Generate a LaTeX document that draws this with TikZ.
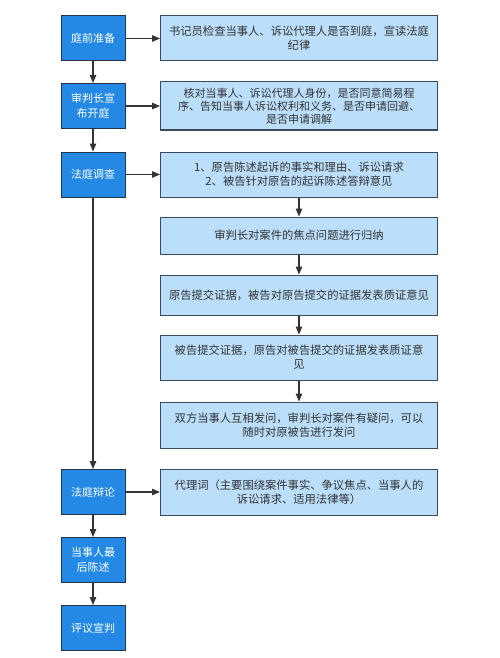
\documentclass[tikz,border=0pt]{standalone}
\usepackage{fontspec}
\setmainfont{Noto Sans CJK SC}
\usepackage{tikz}
\usetikzlibrary{arrows.meta}
\definecolor{stageblue}{HTML}{2489E4}
\definecolor{stageline}{HTML}{22364C}
\definecolor{detailblue}{HTML}{BBDEFB}
\definecolor{detailline}{HTML}{3B4A5A}
\definecolor{linkgray}{HTML}{333333}

\begin{document}
\begin{tikzpicture}[x=1pt,y=-1pt]
    \tikzstyle{stage}=[draw=stageline,fill=stageblue,line width=1pt,text=white,minimum width=64pt,minimum height=45pt,inner sep=0pt,align=center,font=\fontsize{11}{14.5}\selectfont]
    \tikzstyle{detail}=[draw=detailline,fill=detailblue,line width=1pt,text=linkgray,minimum width=277pt,inner sep=0pt,align=center,font=\fontsize{11.3}{14}\selectfont]
    \tikzstyle{link}=[draw=linkgray,line width=1.1pt,-{Triangle[length=8pt,width=6.5pt]}]
    \useasboundingbox (0,0) rectangle (500,658);
    % stages on the left
    \node[stage] (prep) at (93,38.5) {庭前准备};
    \node[stage] (open) at (93,106) {审判长宣\\布开庭};
    \node[stage] (inquiry) at (93,174.5) {法庭调查};
    \node[stage] (debate) at (93,492) {法庭辩论};
    \node[stage] (final) at (93,560) {当事人最\\后陈述};
    \node[stage] (verdict) at (93,628) {评议宣判};
    % details on the right
    \node[detail,minimum height=45pt] (check) at (299,38.5) {书记员检查当事人、诉讼代理人是否到庭，宣读法庭\\纪律};
    \node[detail,minimum height=48pt,font=\fontsize{11}{13}\selectfont] (verify) at (299,106) {核对当事人、诉讼代理人身份，是否同意简易程\\序、告知当事人诉讼权利和义务、是否申请回避、\\是否申请调解};
    \node[detail,minimum height=45pt] (claim) at (299,174.5) {1、原告陈述起诉的事实和理由、诉讼请求\\2、被告针对原告的起诉陈述答辩意见};
    \node[detail,minimum height=37pt] (focus) at (299,235.5) {审判长对案件的焦点问题进行归纳};
    \node[detail,minimum height=40pt] (plaintiff) at (299,295) {原告提交证据，被告对原告提交的证据发表质证意见};
    \node[detail,minimum height=45pt] (defendant) at (299,357.5) {被告提交证据，原告对被告提交的证据发表质证意\\见};
    \node[detail,minimum height=46pt] (question) at (299,425) {双方当事人互相发问，审判长对案件有疑问，可以\\随时对原被告进行发问};
    \node[detail,minimum height=46pt] (agent) at (299,492) {代理词（主要围绕案件事实、争议焦点、当事人的\\诉讼请求、适用法律等）};
    % main flow
    \draw[link] (prep) -- (open);
    \draw[link] (open) -- (inquiry);
    \draw[link] (inquiry) -- (debate);
    \draw[link] (debate) -- (final);
    \draw[link] (final) -- (verdict);
    % side arrows
    \draw[link] (prep) -- (check);
    \draw[link] (open) -- (verify);
    \draw[link] (inquiry) -- (claim);
    \draw[link] (debate) -- (agent);
    \draw[link] (claim) -- (focus);
    \draw[link] (focus) -- (plaintiff);
    \draw[link] (plaintiff) -- (defendant);
    \draw[link] (defendant) -- (question);
\end{tikzpicture}
\end{document}
